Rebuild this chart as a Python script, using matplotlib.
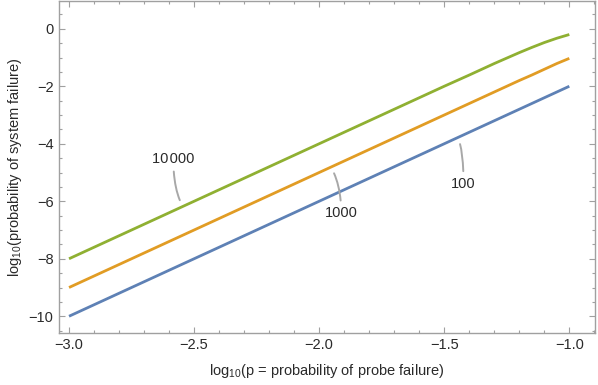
import numpy as np
import matplotlib
matplotlib.use("Agg")
import matplotlib.pyplot as plt
from matplotlib.ticker import MultipleLocator

plt.rcParams['font.family'] = ['Liberation Sans', 'DejaVu Sans']
plt.rcParams['mathtext.default'] = 'regular'

# data
log_p = [-3.0, -2.5, -2.0, -1.75, -1.5, -1.4, -1.35, -1.3, -1.25, -1.2, -1.15, -1.1, -1.05, -1.0]
y_100 = [-10.0, -8.0, -6.0, -5.0, -4.0, -3.6, -3.4, -3.2, -3.0, -2.8, -2.6, -2.4, -2.2, -2.0]
y_1000 = [-9.0, -7.0, -5.0, -4.0, -3.0, -2.6, -2.4, -2.2, -2.0, -1.8, -1.61, -1.41, -1.21, -1.03]
y_10000 = [-8.0, -6.0, -4.0, -3.0, -2.0, -1.61, -1.41, -1.21, -1.02, -0.83, -0.65, -0.48, -0.33, -0.2]

series = [("100", y_100, "#5E81B5"),
          ("1000", y_1000, "#E19C24"),
          ("10000", y_10000, "#8FB032")]

fig = plt.figure(figsize=(5.98, 3.85), dpi=100)
ax = fig.add_axes([0.0987, 0.136, 0.896, 0.861])

for name, ys, col in series:
    ax.plot(log_p, ys, color=col, lw=2.0, solid_capstyle='butt', zorder=3)

ax.set_xlim(-3.04, -0.898)
ax.set_ylim(-10.57, 0.96)

ax.xaxis.set_major_locator(MultipleLocator(0.5))
ax.xaxis.set_minor_locator(MultipleLocator(0.1))
ax.yaxis.set_major_locator(MultipleLocator(2))
ax.yaxis.set_minor_locator(MultipleLocator(0.5))
ax.xaxis.set_major_formatter(matplotlib.ticker.FuncFormatter(lambda v, p: f"{v:.1f}".replace('-', '\u2212')))
ax.yaxis.set_major_formatter(matplotlib.ticker.FuncFormatter(lambda v, p: f"{v:.0f}".replace('-', '\u2212')))

frame_col = '#A0A0A0'
for s in ax.spines.values():
    s.set_color(frame_col)
    s.set_linewidth(1.0)
ax.tick_params(which='both', direction='in', top=True, right=True, color=frame_col,
               labelsize=10.5, labelcolor='#2a2a2a', width=0.8)
ax.tick_params(which='major', length=4.5, pad=4)
ax.tick_params(which='minor', length=2.4)

ax.set_xlabel(r'log$_{10}$(p = probability of probe failure)', fontsize=10.5, color='#2a2a2a', labelpad=7)
ax.set_ylabel(r'log$_{10}$(probability of system failure)', fontsize=10.5, color='#2a2a2a', labelpad=3)

# callout labels
labels = [("10\u200a000", y_10000, -2.545, (-2.583, -4.53)),
          ("1000", y_1000, -1.953, (-1.912, -6.41)),
          ("100", y_100, -1.447, (-1.423, -5.39))]
for name, ys, xl, txy in labels:
    yl = float(np.interp(xl, log_p, ys))
    ax.annotate(name, xy=(xl, yl), xytext=txy, ha='center', va='center',
                fontsize=10.5, color='#2a2a2a',
                arrowprops=dict(arrowstyle='-', color='#A8A8A8', lw=1.4,
                                connectionstyle='angle3,angleA=90,angleB=120',
                                shrinkA=2, shrinkB=5))

fig.savefig('out.png', dpi=100)
